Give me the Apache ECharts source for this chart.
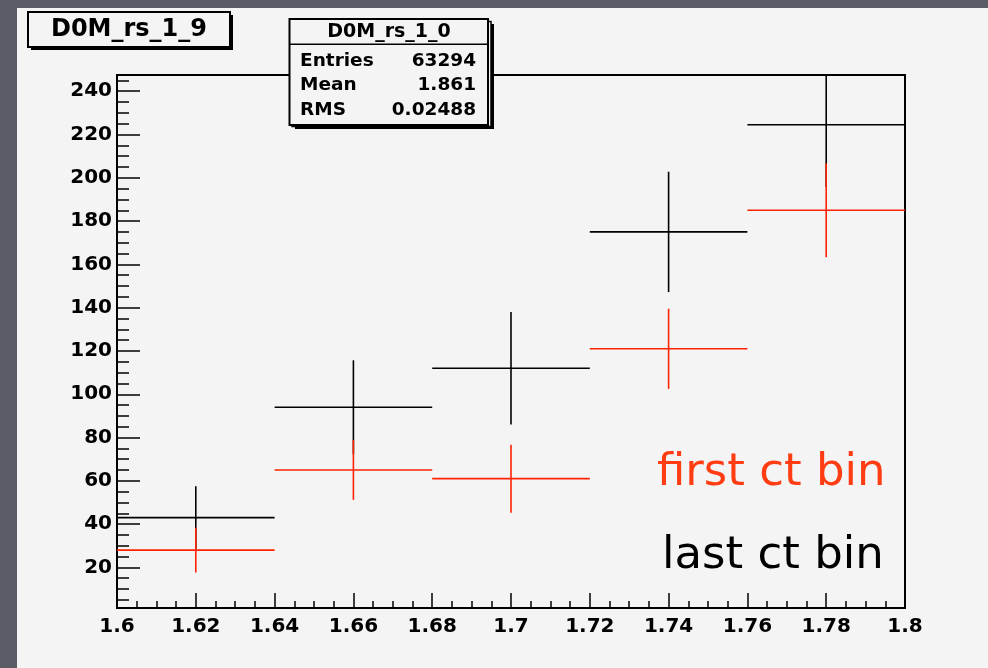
<!DOCTYPE html>
<html>
<head>
<meta charset="utf-8">
<script src="https://cdn.jsdelivr.net/npm/echarts@6/dist/echarts.min.js"></script>
<style>
  html, body { margin: 0; padding: 0; background: #5a5d66; }
  #chart { width: 988px; height: 668px; }
</style>
</head>
<body>
<div id="chart"></div>
<script>
// Mass bins (lower and upper edges) shared by both histograms
const binLow = [1.60, 1.64, 1.68, 1.72, 1.76];
const binHigh = [1.64, 1.68, 1.72, 1.76, 1.80];

// Last ct bin (black) contents and errors
const lastBinCounts = [43, 94, 112, 175, 224.5];
const lastBinErrors = [14.5, 21.7, 26.0, 27.8, 28.7];

// First ct bin (red) contents and errors
const firstBinCounts = [28, 65, 61, 121, 185];
const firstBinErrors = [10.3, 13.8, 15.7, 18.5, 21.7];

// Axis ticks
const yMajorTicks = [20, 40, 60, 80, 100, 120, 140, 160, 180, 200, 220, 240];
const yMinorTicks = [5, 10, 15, 25, 30, 35, 45, 50, 55, 65, 70, 75, 85, 90, 95,
  105, 110, 115, 125, 130, 135, 145, 150, 155, 165, 170, 175, 185, 190, 195,
  205, 210, 215, 225, 230, 235, 245];

// Texts
const histTitle = 'D0M_rs_1_9';
const statsTitle = 'D0M_rs_1_0';
const statNames = ['Entries', 'Mean', 'RMS'];
const statValues = ['63294', '1.861', '0.02488'];
const legendTexts = ['first ct bin', 'last ct bin'];

const yMin = 1.25, yMax = 247.5;
const FONT = 'DejaVu Sans';
const RED_LINE = '#ff2200';
const RED_TEXT = '#ff3c12';

function toItems(counts, errs) {
  return counts.map((v, i) => [binLow[i], binHigh[i], v, errs[i]]);
}

// Horizontal bar spans the bin, vertical bar spans +- error at the bin centre
function crossItem(params, api) {
  const lo = api.value(0), hi = api.value(1), v = api.value(2), e = api.value(3);
  const mid = (lo + hi) / 2;
  const a = api.coord([lo, v]), b = api.coord([hi, v]);
  const t = api.coord([mid, v + e]), d = api.coord([mid, v - e]);
  const style = { stroke: api.visual('color'), lineWidth: 1.6 };
  return {
    type: 'group',
    children: [
      { type: 'line', shape: { x1: a[0], y1: a[1], x2: b[0], y2: b[1] }, style: style },
      { type: 'line', shape: { x1: t[0], y1: t[1], x2: d[0], y2: d[1] }, style: style }
    ]
  };
}

const chart = echarts.init(document.getElementById('chart'), null, { renderer: 'canvas' });

const statsChildren = [];
statNames.forEach((name, i) => {
  statsChildren.push({
    type: 'text', z: 31,
    style: { x: 300, y: 61 + i * 24.5, text: name, fill: '#000', font: 'bold 18.5px ' + FONT, textVerticalAlign: 'middle' }
  });
  statsChildren.push({
    type: 'text', z: 31,
    style: { x: 476, y: 61 + i * 24.5, text: statValues[i], fill: '#000', font: 'bold 18.5px ' + FONT, textAlign: 'right', textVerticalAlign: 'middle' }
  });
});

chart.setOption({
  backgroundColor: '#5a5d66',
  animation: false,
  grid: {
    left: 117, right: 83, top: 75, bottom: 60,
    show: true, borderColor: '#000', borderWidth: 2, backgroundColor: 'transparent'
  },
  xAxis: {
    type: 'value', min: 1.6, max: 1.8, interval: 0.02,
    axisLine: { show: true, lineStyle: { color: '#000', width: 2 } },
    axisTick: { show: true, inside: true, length: 15, lineStyle: { color: '#000', width: 1.5 } },
    minorTick: { show: true, splitNumber: 4, length: 7, lineStyle: { color: '#000', width: 1.5 } },
    splitLine: { show: false },
    axisLabel: {
      margin: 9, color: '#000', fontFamily: FONT, fontWeight: 'bold', fontSize: 20,
      formatter: v => String(+v.toFixed(2))
    }
  },
  yAxis: [
    {
      type: 'value', min: yMin, max: yMax,
      axisLine: { show: true, lineStyle: { color: '#000', width: 2 } },
      axisTick: { show: true, inside: true, length: 23, customValues: yMajorTicks, lineStyle: { color: '#000', width: 1.5 } },
      splitLine: { show: false },
      axisLabel: {
        margin: 5, color: '#000', fontFamily: FONT, fontWeight: 'bold', fontSize: 20,
        customValues: yMajorTicks
      }
    },
    {
      type: 'value', min: yMin, max: yMax, position: 'left',
      axisLine: { show: false },
      axisTick: { show: true, inside: true, length: 12, customValues: yMinorTicks, lineStyle: { color: '#000', width: 1.5 } },
      splitLine: { show: false },
      axisLabel: { show: false }
    }
  ],
  series: [
    {
      name: 'last ct bin', type: 'custom', clip: true,
      itemStyle: { color: '#000' },
      encode: { x: [0, 1], y: 2 },
      renderItem: crossItem,
      data: toItems(lastBinCounts, lastBinErrors), z: 3
    },
    {
      name: 'first ct bin', type: 'custom', clip: true,
      itemStyle: { color: RED_LINE },
      encode: { x: [0, 1], y: 2 },
      renderItem: crossItem,
      data: toItems(firstBinCounts, firstBinErrors), z: 4
    }
  ],
  graphic: [
    // canvas pad
    { type: 'rect', z: -10, silent: true, shape: { x: 17, y: 8, width: 971, height: 660 }, style: { fill: '#f4f4f4' } },
    // histogram title box with shadow
    { type: 'rect', z: 20, shape: { x: 31, y: 15, width: 202, height: 35 }, style: { fill: '#000' } },
    { type: 'rect', z: 21, shape: { x: 28, y: 12, width: 202, height: 35 }, style: { fill: '#f4f4f4', stroke: '#000', lineWidth: 2 } },
    { type: 'text', z: 22, style: { x: 129, y: 30, text: histTitle, fill: '#000', font: 'bold 24px ' + FONT, textAlign: 'center', textVerticalAlign: 'middle' } },
    // stats boxes (one behind the other)
    { type: 'rect', z: 25, shape: { x: 295, y: 24, width: 199, height: 105 }, style: { fill: '#000' } },
    { type: 'rect', z: 26, shape: { x: 292, y: 21.5, width: 199, height: 105 }, style: { fill: '#f4f4f4', stroke: '#000', lineWidth: 1.5 } },
    { type: 'rect', z: 28, shape: { x: 289.5, y: 19, width: 198.5, height: 106 }, style: { fill: '#f4f4f4', stroke: '#000', lineWidth: 2 } },
    { type: 'line', z: 29, shape: { x1: 289.5, y1: 44.3, x2: 488, y2: 44.3 }, style: { stroke: '#000', lineWidth: 1.5 } },
    { type: 'text', z: 31, style: { x: 389, y: 32, text: statsTitle, fill: '#000', font: 'bold 19px ' + FONT, textAlign: 'center', textVerticalAlign: 'middle' } },
    ...statsChildren,
    // legend texts
    { type: 'text', z: 30, style: { x: 657, y: 451, text: legendTexts[0], fill: RED_TEXT, font: '45px ' + FONT, textVerticalAlign: 'top' } },
    { type: 'text', z: 30, style: { x: 662, y: 534, text: legendTexts[1], fill: '#000', font: '45px ' + FONT, textVerticalAlign: 'top' } }
  ]
});
</script>
</body>
</html>
